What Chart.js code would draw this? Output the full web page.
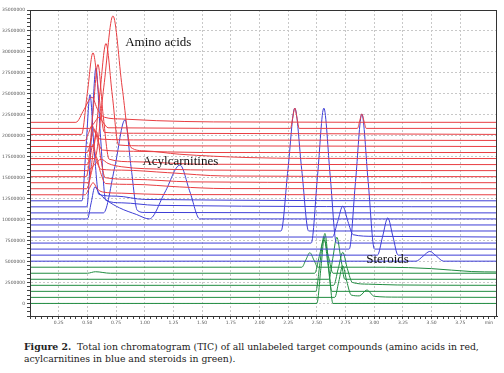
<!DOCTYPE html>
<html>
<head>
<meta charset="utf-8">
<script src="https://cdn.jsdelivr.net/npm/chart.js@4/dist/chart.umd.min.js"></script>
<style>
  body { margin: 0; background: #fff; }
  #wrap { position: relative; width: 504px; height: 373px; }
  #tic { position: absolute; left: 0; top: 0; }
  .cap {
    position: absolute; left: 24px; top: 341px; width: 478px;
    font-family: "DejaVu Serif", serif; font-size: 9.3px; line-height: 12px; color: #222;
    white-space: nowrap;
  }
</style>
</head>
<body>
<div id="wrap">
  <canvas id="tic" width="504" height="330"></canvas>
  <div class="cap"><b>Figure 2.</b>&nbsp; Total ion chromatogram (TIC) of all unlabeled target compounds (amino acids in red,<br>acylcarnitines in blue and steroids in green).</div>
</div>
<script>
// retention time (min) vs intensity (millions of counts), each trace stacked on its own baseline
const aminoAcids = [
  [[0,12.96],[0.48,12.96],[0.515,13.68],[0.55,14.4],[0.585,13.7],[0.63,13.3],[0.8,13.15],[1.2,12.98],[4.07,12.96]],
  [[0,13.68],[0.495,13.68],[0.535,15.6],[0.575,17.5],[0.615,15.6],[0.66,14.3],[0.9,14.2],[1.3,13.9],[1.7,13.7],[4.07,13.68]],
  [[0,14.4],[0.51,14.4],[0.545,17.45],[0.58,20.5],[0.615,17.45],[0.655,15.0],[0.9,14.8],[1.4,14.5],[4.07,14.4]],
  [[0,15.12],[0.49,15.12],[0.52,17.06],[0.55,19.0],[0.58,17.06],[0.62,16.0],[0.8,15.9],[1.2,15.6],[1.7,15.2],[4.07,15.12]],
  [[0,15.84],[0.5,15.84],[0.56,16.5],[0.62,17.2],[0.68,16.7],[0.8,16.3],[1.2,16.0],[2.0,15.88],[4.07,15.84]],
  [[0,16.56],[0.502,16.56],[0.547,22.53],[0.592,28.5],[0.637,22.53],[0.69,17.2],[0.9,16.9],[1.5,16.6],[4.07,16.56]],
  [[0,17.28],[0.563,17.28],[0.643,25.8],[0.723,34.3],[0.803,25.8],[0.88,18.6],[1.0,18.2],[1.3,17.8],[1.9,17.4],[2.4,17.3],[4.07,17.28]],
  [[0,18.0],[0.5,18.0],[0.53,19.4],[0.56,20.8],[0.59,19.4],[0.63,18.3],[0.9,18.15],[1.5,18.0],[4.07,18.0]],
  [[0,18.72],[0.552,18.72],[0.607,24.86],[0.662,31.0],[0.717,24.86],[0.772,18.9],[1.0,18.8],[4.07,18.72]],
  [[0,19.44],[0.48,19.44],[0.51,20.3],[0.54,21.2],[0.57,20.3],[0.61,19.6],[1.0,19.5],[4.07,19.44]],
  [[0,20.16],[0.449,20.16],[0.499,25.03],[0.549,29.9],[0.599,25.03],[0.649,20.4],[0.9,20.3],[4.07,20.16]],
  [[0,20.88],[0.52,20.88],[0.56,21.54],[0.6,22.2],[0.64,21.54],[0.68,20.95],[2.27,20.88],[2.289,22.1],[2.308,23.3],
   [2.327,22.1],[2.346,20.88],[2.854,20.88],[2.873,21.74],[2.892,22.6],[2.911,21.74],[2.93,20.88],[4.07,20.88]],
  [[0,21.6],[0.4,21.6],[0.47,23.1],[0.54,24.6],[0.59,23.1],[0.65,22.2],[0.8,22.0],[1.1,21.8],[1.6,21.65],[4.07,21.6]],
];
const acylcarnitines = [
  [[0,5.04],[3.364,5.04],[3.424,5.62],[3.484,6.2],[3.544,5.62],[3.604,5.04],[4.07,5.04]],
  [[0,5.76],[3.028,5.76],[3.073,7.98],[3.118,10.2],[3.163,7.98],[3.208,5.76],[4.07,5.76]],
  [[0,6.48],[2.782,6.48],[2.837,14.54],[2.892,22.6],[2.947,14.54],[3.002,6.48],[4.07,6.48]],
  [[0,7.2],[2.451,7.2],[2.506,15.25],[2.561,23.3],[2.616,15.25],[2.671,7.2],[4.07,7.2]],
  [[0,7.92],[2.636,7.92],[2.681,9.76],[2.726,11.6],[2.771,9.76],[2.816,8.2],[3.0,8.0],[4.07,7.92]],
  [[0,8.64],[2.188,8.64],[2.248,15.97],[2.308,23.3],[2.368,15.97],[2.428,8.64],[4.07,8.64]],
  [[0,9.36],[4.07,9.36]],
  [[0,10.08],[0.5,10.08],[0.533,12.0],[0.566,13.9],[0.6,13.2],[0.67,12.3],[0.78,11.4],[0.93,10.6],[1.04,10.08],
   [1.177,13.29],[1.307,16.5],[1.394,13.29],[1.48,10.08],[4.07,10.08]],
  [[0,10.8],[0.64,10.8],[0.74,16.35],[0.828,21.9],[0.88,16.35],[0.935,11.1],[1.0,10.85],[4.07,10.8]],
  [[0,11.52],[0.495,11.52],[0.535,19.81],[0.575,28.1],[0.615,19.81],[0.66,12.3],[0.8,12.0],[1.1,11.7],[4.07,11.52]],
  [[0,12.24],[0.453,12.24],[0.488,18.57],[0.523,24.9],[0.558,18.57],[0.6,13.0],[0.75,12.8],[1.0,12.4],[4.07,12.24]],
];
const steroids = [
  [[0,0],[2.5,0],[2.535,4.18],[2.57,8.35],[2.605,4.18],[2.64,0],[4.07,0]],
  [[0,0.72],[2.656,0.72],[2.691,2.61],[2.726,4.5],[2.761,2.61],[2.8,1.0],[2.87,0.9],[2.936,1.6],[3.0,0.85],[3.2,0.75],[4.07,0.72]],
  [[0,1.44],[2.491,1.44],[2.526,4.71],[2.561,7.98],[2.596,4.71],[2.631,1.44],[4.07,1.44]],
  [[0,2.16],[2.646,2.16],[2.686,4.13],[2.726,6.1],[2.766,4.13],[2.81,2.5],[2.95,2.3],[3.2,2.2],[4.07,2.16]],
  [[0,2.88],[2.604,2.88],[2.639,5.39],[2.674,7.9],[2.709,5.39],[2.744,2.88],[4.07,2.88]],
  [[0,3.6],[0.5,3.6],[0.57,3.78],[0.7,3.6],[2.481,3.6],[2.521,5.6],[2.561,7.6],[2.601,5.6],[2.641,3.6],[4.07,3.6]],
  [[0,4.32],[2.369,4.32],[2.404,5.19],[2.439,6.05],[2.474,5.19],[2.509,4.32],[3.1,4.32],[3.5,4.15],[3.85,3.8],[4.07,3.75]],
];

const xMajor = [0.25,0.5,0.75,1,1.25,1.5,1.75,2,2.25,2.5,2.75,3,3.25,3.5,3.75,4];
const xLabels = ["0.25","0.50","0.75","1.00","1.25","1.50","1.75","2.00","2.25","2.50","2.75","3.00","3.25","3.50","3.75","min"];
const yMajor = [0,2500000,5000000,7500000,10000000,12500000,15000000,17500000,20000000,22500000,25000000,27500000,30000000,32500000,35000000];
const yLabels = ["0","2500000","5000000","7500000","10000000","12500000","15000000","17500000","20000000","22500000","25000000","27500000","30000000","32500000","35000000"];

// [text, time, intensity (millions)]
const groupLabels = [
  ["Amino acids", 0.83, 31.1],
  ["Acylcarnitines", 0.98, 16.9],
  ["Steroids", 2.93, 5.2],
];

const RED = "rgb(232,62,66)", BLUE = "rgb(62,62,214)", GREEN = "rgb(32,140,64)";

function toSets(traces, color) {
  return traces.map((tr) => ({
    data: tr.map((p) => ({ x: p[0], y: p[1] * 1e6 })),
    borderColor: color,
    borderWidth: 1,
    pointRadius: 0,
    fill: false,
    cubicInterpolationMode: "monotone",
  }));
}

const near = (v, list) => list.findIndex((m) => Math.abs(m - v) < 1e-6 * Math.max(1, Math.abs(m)));

const framePlugin = {
  id: "frame",
  afterDraw(chart) {
    const { ctx, chartArea: a, scales } = chart;
    ctx.save();
    ctx.strokeStyle = "#333";
    ctx.lineWidth = 1;
    ctx.strokeRect(a.left + 0.5, a.top + 0.5, a.right - a.left - 1, a.bottom - a.top);
    ctx.fillStyle = "#111";
    ctx.font = "13px 'Liberation Serif', serif";
    ctx.textBaseline = "middle";
    groupLabels.forEach(([txt, t, v]) => {
      ctx.fillText(txt, scales.x.getPixelForValue(t), scales.y.getPixelForValue(v * 1e6));
    });
    ctx.restore();
  },
};

new Chart(document.getElementById("tic"), {
  type: "line",
  data: {
    datasets: [
      ...toSets(aminoAcids.slice().reverse(), RED),
      ...toSets(acylcarnitines.slice().reverse(), BLUE),
      ...toSets(steroids.slice().reverse(), GREEN),
    ],
  },
  options: {
    responsive: false,
    animation: false,
    layout: { padding: { top: 10, right: 7, left: 0, bottom: 0 } },
    plugins: { legend: { display: false }, tooltip: { enabled: false } },
    scales: {
      x: {
        type: "linear",
        min: 0,
        max: 4.07,
        afterFit: (s) => { s.height = 14; },
        border: { color: "#333", dash: [2, 2] },
        grid: {
          color: (c) => (near(c.tick.value, xMajor.slice(0, -1)) >= 0 ? "#c8c8c8" : "transparent"),
          tickColor: "#444",
          tickLength: 3,
        },
        ticks: {
          stepSize: 0.05,
          includeBounds: false,
          autoSkip: false,
          maxRotation: 0,
          padding: 1,
          color: "#555",
          font: { size: 4.5, family: "DejaVu Sans" },
          callback: (v) => { const i = near(v, xMajor); return i >= 0 ? xLabels[i] : ""; },
        },
      },
      y: {
        min: -1500000,
        max: 35000000,
        afterFit: (s) => { s.width = 30; },
        border: { color: "#333", dash: [2, 2] },
        grid: {
          color: (c) => (near(c.tick.value, yMajor) >= 0 ? "#c8c8c8" : "transparent"),
          tickColor: "#444",
          tickLength: 3,
        },
        ticks: {
          stepSize: 500000,
          autoSkip: false,
          padding: 2,
          color: "#555",
          font: { size: 4.5, family: "DejaVu Sans" },
          callback: (v) => { const i = near(v, yMajor); return i >= 0 ? yLabels[i] : ""; },
        },
      },
    },
  },
  plugins: [framePlugin],
});
</script>
</body>
</html>
